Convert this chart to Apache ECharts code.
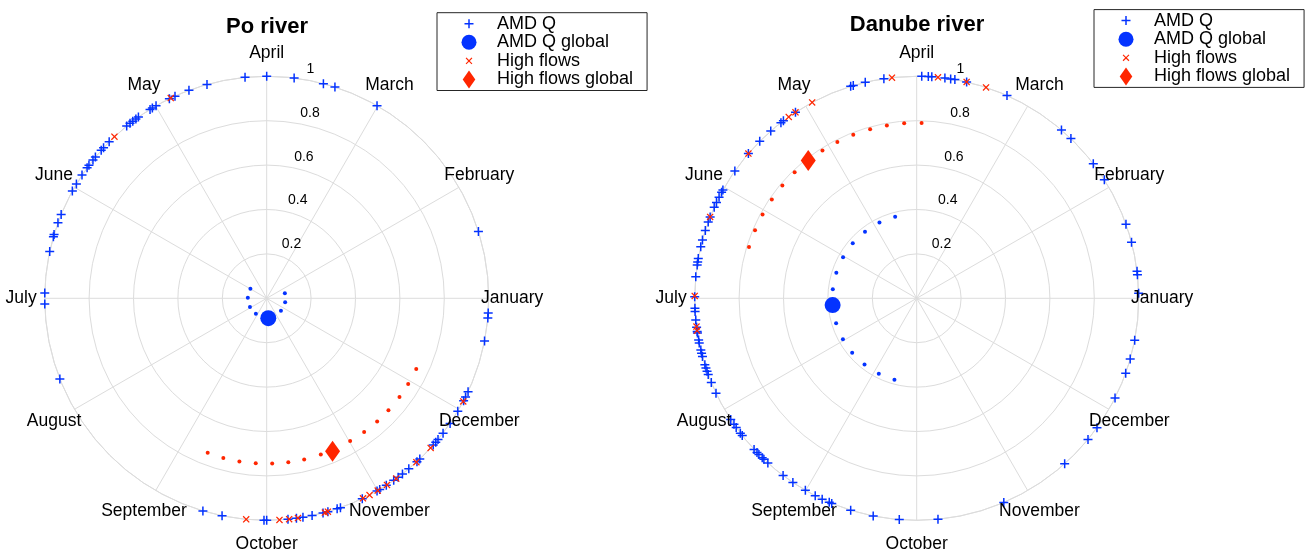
<!DOCTYPE html>
<html>
<head>
<meta charset="utf-8">
<script src="https://cdn.jsdelivr.net/npm/echarts@6/dist/echarts.min.js"></script>
<style>
html,body{margin:0;padding:0;background:#fff;}
#c{width:1309px;height:557px;}
</style>
</head>
<body>
<div id="c"></div>
<script>
// ---------------- data ----------------
const months = ['January','February','March','April','May','June','July','August','September','October','November','December'];
const radiusTickLabels = [0.2, 0.4, 0.6, 0.8, 1];
const legendNames = ['AMD Q', 'AMD Q global', 'High flows', 'High flows global'];

// angles in degrees (counter-clockwise, January = 0), all at radius 1
const poAmdQ = [17.5, 60.2, 72.1, 75.2, 82.9, 90.0, 95.6, 105.6, 110.5, 114.4, 116.0, 119.9, 121.0, 121.7, 125.3, 126.1, 127.1, 128.0, 129.1, 135.2, 137.3, 138.2, 140.5, 141.5, 143.2, 144.0, 146.3, 149.0, 151.1, 157.8, 160.1, 163.3, 163.9, 167.8, 178.6, 181.5, 201.3, 253.3, 258.4, 269.3, 270.0, 275.5, 277.7, 279.4, 281.8, 284.7, 286.0, 288.5, 289.4, 295.5, 299.8, 300.6, 302.6, 304.9, 306.3, 307.7, 309.8, 312.6, 313.6, 318.6, 319.6, 320.5, 322.6, 325.7, 329.4, 332.5, 333.6, 335.1, 348.9, 354.9, 356.2];
const poHighFlows = [115.6, 133.3, 264.7, 273.3, 275.8, 278.1, 285.2, 286.0, 295.7, 297.6, 300.0, 302.8, 305.7, 312.4, 317.6, 332.3];
const poAmdQGlobal = [0.09, 274.6];        // [radius, angle]
const poHighFlowsGlobal = [0.75, 293.3];   // [radius, angle]
const poAmdArc = [149.8, 178.0, 207.5, 235.0, 319.0, 347.7, 15.9];
const poAmdArcRadius = 0.085;
const poHighArc = [249.1, 254.8, 260.5, 266.2, 271.9, 277.5, 283.1, 289.1, 300.3, 306.1, 311.9, 317.4, 323.4, 328.8, 334.7];
const poHighArcRadius = 0.745;

const dnAmdQ = [1.3, 6.1, 7.0, 14.6, 19.5, 32.3, 37.3, 46.0, 49.3, 66.0, 77.0, 80.1, 81.2, 82.7, 86.1, 87.0, 88.7, 98.5, 103.4, 106.6, 107.3, 123.1, 126.9, 127.7, 131.1, 135.0, 139.3, 145.0, 150.8, 151.5, 152.9, 154.4, 155.8, 158.5, 159.9, 162.2, 164.8, 166.6, 169.7, 170.6, 171.4, 174.4, 179.6, 182.6, 183.4, 185.6, 187.5, 188.6, 189.0, 190.8, 191.6, 193.5, 194.3, 195.2, 197.4, 198.3, 199.2, 200.1, 202.3, 205.3, 213.1, 214.6, 215.6, 217.4, 218.2, 222.9, 224.0, 224.7, 225.9, 226.5, 227.9, 233.0, 236.1, 239.9, 242.8, 244.8, 246.8, 247.5, 252.7, 258.7, 265.5, 275.5, 293.1, 311.8, 320.5, 324.3, 333.3, 340.3, 344.1, 349.1];
const dnHighFlows = [71.8, 77.0, 84.5, 96.4, 118.1, 123.1, 125.2, 139.3, 158.5, 179.4, 187.3, 188.4];
const dnAmdQGlobal = [0.38, 184.6];
const dnHighFlowsGlobal = [0.79, 128.2];
const dnAmdArc = [104.8, 116.2, 127.8, 139.3, 150.8, 162.3, 173.9, 197.2, 209.0, 220.1, 231.8, 243.3, 254.7];
const dnAmdArcRadius = 0.38;
const dnHighArc = [88.4, 94.1, 99.8, 105.4, 111.2, 116.9, 122.5, 134.1, 140.0, 145.7, 151.5, 157.2, 163.0];
const dnHighArcRadius = 0.79;

const eventRadius = 1;

// ---------------- style ----------------
const FONT = '"Liberation Sans", Arial, Helvetica, sans-serif';
const BLUE = '#0433ff', RED = '#ff2600', GRID = '#dcdcdc';
const LABEL_R = 1.106;

const PLUS = 'path://M5,0H7V5H12V7H7V12H5V7H0V5H5Z';
const CROSS = 'path://M0,1.5L1.5,0L6,4.5L10.5,0L12,1.5L7.5,6L12,10.5L10.5,12L6,7.5L1.5,12L0,10.5L4.5,6Z';
const DIAMOND = 'path://M7,0L14,10L7,20L0,10Z';

const PLUS_L = 'path://M0,0M24,24M11,6H13V11H18V13H13V18H11V13H6V11H11Z';
const CROSS_L = 'path://M0,0M24,24M7.5,8.6L8.6,7.5L12,10.9L15.4,7.5L16.5,8.6L13.1,12L16.5,15.4L15.4,16.5L12,13.1L8.6,16.5L7.5,15.4L10.9,12Z';
const CIRCLE_L = 'path://M0,0M18,18M1.5,9A7.5,7.5,0,1,1,16.5,9A7.5,7.5,0,1,1,1.5,9Z';
const DIAMOND_L = 'path://M7,0L14,10L7,20L0,10Z';

const centers = [[266.7, 298.3], [916.7, 298.3]];
const R = 222;

function gridAxes(p) {
  return {
    angle: {
      polarIndex: p, type: 'value', min: 0, max: 360, interval: 30, startAngle: 0, clockwise: false,
      axisLine: {show: true, lineStyle: {color: GRID, width: 1}},
      axisTick: {show: false}, axisLabel: {show: false},
      splitLine: {show: true, lineStyle: {color: GRID, width: 1}}
    },
    radius: {
      polarIndex: p, type: 'value', min: 0, max: 1, interval: 0.2,
      axisLine: {show: false}, axisTick: {show: false}, axisLabel: {show: false},
      splitLine: {show: true, lineStyle: {color: GRID, width: 1}}
    }
  };
}
function labelAxes(p) {
  return {
    angle: {
      polarIndex: p, type: 'value', min: 0, max: 360, startAngle: 82, clockwise: false,
      axisLine: {show: false}, axisTick: {show: false}, axisLabel: {show: false}, splitLine: {show: false}
    },
    radius: {
      polarIndex: p, type: 'value', min: 0, max: 1, interval: 0.2,
      axisLine: {show: false}, axisTick: {show: false}, splitLine: {show: false},
      axisLabel: {
        show: true, showMinLabel: false, margin: -9, align: 'left', verticalAlign: 'bottom',
        padding: [0, 0, 4, 0], fontSize: 14, color: '#000', fontFamily: FONT,
        formatter: function (v) { return radiusTickLabels.indexOf(+v.toFixed(1)) >= 0 ? String(+v.toFixed(1)) : ''; }
      }
    }
  };
}

function seriesFor(p, amd, high, amdG, highG, amdArc, amdArcR, highArc, highArcR) {
  const base = {type: 'scatter', coordinateSystem: 'polar', polarIndex: p, clip: false, silent: true, animation: false};
  const st = c => ({color: c, opacity: 1});
  return [
    Object.assign({}, base, {name: 'arc-amd', symbol: 'circle', symbolSize: 4, itemStyle: st(BLUE),
      data: amdArc.map(a => [amdArcR, a])}),
    Object.assign({}, base, {name: 'arc-high', symbol: 'circle', symbolSize: 4, itemStyle: st(RED),
      data: highArc.map(a => [highArcR, a])}),
    Object.assign({}, base, {name: 'AMD Q', symbol: PLUS, symbolSize: 9, itemStyle: st(BLUE),
      data: amd.map(a => [eventRadius, a])}),
    Object.assign({}, base, {name: 'High flows', symbol: CROSS, symbolSize: 7, itemStyle: st(RED),
      data: high.map(a => [eventRadius, a])}),
    Object.assign({}, base, {name: 'AMD Q global', symbol: 'circle', symbolSize: 16, itemStyle: st(BLUE),
      data: [amdG]}),
    Object.assign({}, base, {name: 'High flows global', symbol: DIAMOND, symbolSize: [15, 21], itemStyle: st(RED),
      data: [highG]}),
    Object.assign({}, base, {name: 'months', symbol: 'circle', symbolSize: 1,
      itemStyle: {color: 'rgba(0,0,0,0)', opacity: 1},
      label: {show: true, position: 'inside', formatter: '{b}', color: '#000', opacity: 1, fontSize: 17.5, fontFamily: FONT},
      data: months.map((m, i) => ({name: m, value: [LABEL_R, i * 30]}))})
  ];
}

function legendFor(left, top) {
  return {
    orient: 'vertical', left: left, top: top, itemWidth: 46, itemHeight: 18, itemGap: 0.6,
    padding: [2, 14, 2, 23], borderColor: '#262626', borderWidth: 1, backgroundColor: '#fff',
    selectedMode: false,
    textStyle: {fontSize: 18, color: '#000', fontFamily: FONT},
    itemStyle: {opacity: 1},
    data: [
      {name: legendNames[0], icon: PLUS_L},
      {name: legendNames[1], icon: CIRCLE_L},
      {name: legendNames[2], icon: CROSS_L},
      {name: legendNames[3], icon: DIAMOND_L}
    ]
  };
}

const g0 = gridAxes(0), l1 = labelAxes(1), g2 = gridAxes(2), l3 = labelAxes(3);

const option = {
  animation: false,
  backgroundColor: '#fff',
  title: [
    {text: 'Po river', left: 267, top: 15.5, textAlign: 'center', padding: 0,
      textStyle: {fontSize: 22, fontWeight: 'bold', color: '#000', fontFamily: FONT}},
    {text: 'Danube river', left: 917, top: 13.5, textAlign: 'center', padding: 0,
      textStyle: {fontSize: 22, fontWeight: 'bold', color: '#000', fontFamily: FONT}}
  ],
  legend: [legendFor(437, 12.7), legendFor(1094, 9.6)],
  polar: [
    {center: centers[0], radius: R},
    {center: centers[0], radius: R},
    {center: centers[1], radius: R},
    {center: centers[1], radius: R}
  ],
  angleAxis: [g0.angle, l1.angle, g2.angle, l3.angle],
  radiusAxis: [g0.radius, l1.radius, g2.radius, l3.radius],
  series: [].concat(
    seriesFor(0, poAmdQ, poHighFlows, poAmdQGlobal, poHighFlowsGlobal, poAmdArc, poAmdArcRadius, poHighArc, poHighArcRadius),
    seriesFor(2, dnAmdQ, dnHighFlows, dnAmdQGlobal, dnHighFlowsGlobal, dnAmdArc, dnAmdArcRadius, dnHighArc, dnHighArcRadius)
  )
};

const chart = echarts.init(document.getElementById('c'), null, {renderer: 'canvas'});
chart.setOption(option);
</script>
</body>
</html>
